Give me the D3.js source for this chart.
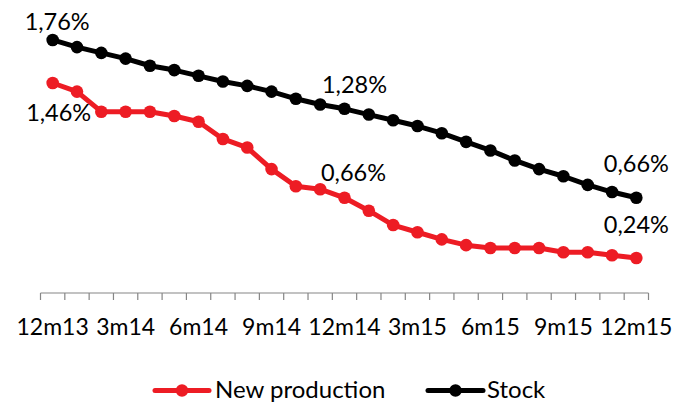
<!DOCTYPE html>
<html>
<head>
<meta charset="utf-8">
<script src="https://cdn.jsdelivr.net/npm/d3@7"></script>
<style>
  html, body { margin: 0; padding: 0; background: #fff; }
  svg { display: block; }
  text { font-family: Lato, "Open Sans", sans-serif; fill: #000; }
</style>
</head>
<body>
<svg id="chart" width="682" height="403"></svg>
<script>
// Monthly categories, Dec 2013 to Dec 2015
const months = ["12m13","1m14","2m14","3m14","4m14","5m14","6m14","7m14","8m14","9m14","10m14","11m14",
  "12m14","1m15","2m15","3m15","4m15","5m15","6m15","7m15","8m15","9m15","10m15","11m15","12m15"];
const tickLabels = ["12m13","3m14","6m14","9m14","12m14","3m15","6m15","9m15","12m15"];

// Rates in percent
const newProduction = [1.46,1.40,1.26,1.26,1.26,1.23,1.19,1.07,1.01,0.86,0.74,0.72,
  0.66,0.57,0.47,0.42,0.37,0.33,0.31,0.31,0.31,0.28,0.28,0.26,0.24];
const stock = [1.76,1.71,1.67,1.63,1.58,1.55,1.51,1.47,1.44,1.40,1.35,1.31,
  1.28,1.24,1.20,1.16,1.11,1.05,0.99,0.92,0.86,0.81,0.75,0.70,0.66];

// Labelled points: series, month index, text offsets
const pointLabels = [
  { series: "stock", i: 0,  dx: 4.5, dy: -10 },
  { series: "new",   i: 0,  dx: 6,   dy: 38.4 },
  { series: "stock", i: 12, dx: 10,  dy: -16 },
  { series: "new",   i: 12, dx: 9,   dy: -16.6 },
  { series: "stock", i: 24, dx: 0,   dy: -25.7 },
  { series: "new",   i: 24, dx: 0,   dy: -24.7 }
];

const RED = "#ED1C24", BLACK = "#000000";
const svg = d3.select("#chart");

const x = d3.scaleBand().domain(months).range([40.5, 648.5]);
const y = d3.scaleLinear().domain([0, 2]).range([292.5, 5.5]);
const cx = d => x(d) + x.bandwidth() / 2;
const fmt = v => v.toFixed(2).replace(".", ",") + "%";

// Category axis: ticks on band boundaries, labels every third month
const axisY = 293;
const g = svg.append("g");
g.append("line")
  .attr("x1", x.range()[0]).attr("x2", x.range()[1])
  .attr("y1", axisY).attr("y2", axisY)
  .attr("stroke", "#868686").attr("stroke-width", 1.2);
const boundaries = months.map(m => x(m)).concat([x.range()[1]]);
g.selectAll("line.tick").data(boundaries).enter().append("line")
  .attr("class", "tick")
  .attr("x1", d => d).attr("x2", d => d)
  .attr("y1", axisY).attr("y2", axisY + 7)
  .attr("stroke", "#868686").attr("stroke-width", 1.2);
g.selectAll("text.tl").data(tickLabels).enter().append("text")
  .attr("class", "tl")
  .attr("x", d => cx(d)).attr("y", 335)
  .attr("text-anchor", "middle")
  .attr("font-size", 23)
  .text(d => d);

// Series
const seriesList = [
  { key: "new", name: "New production", values: newProduction, color: RED },
  { key: "stock", name: "Stock", values: stock, color: BLACK }
];
const line = d3.line().x((d, i) => cx(months[i])).y(d => y(d));

seriesList.forEach(s => {
  const sg = svg.append("g");
  sg.append("path").datum(s.values)
    .attr("d", line)
    .attr("fill", "none")
    .attr("stroke", s.color)
    .attr("stroke-width", 5)
    .attr("stroke-linejoin", "round");
  sg.selectAll("circle").data(s.values).enter().append("circle")
    .attr("cx", (d, i) => cx(months[i]))
    .attr("cy", d => y(d))
    .attr("r", 6.3)
    .attr("fill", s.color);
});

// Value labels
const byKey = { new: newProduction, stock: stock };
svg.selectAll("text.vl").data(pointLabels).enter().append("text")
  .attr("class", "vl")
  .attr("x", d => cx(months[d.i]) + d.dx)
  .attr("y", d => y(byKey[d.series][d.i]) + d.dy)
  .attr("text-anchor", "middle")
  .attr("font-size", 23.5)
  .text(d => fmt(byKey[d.series][d.i]));

// Legend
const legendItems = [
  { name: "New production", color: RED, x0: 155, x1: 209, tx: 215 },
  { name: "Stock", color: BLACK, x0: 428, x1: 483, tx: 487 }
];
const ly = 390.5;
const lg = svg.append("g");
legendItems.forEach(it => {
  lg.append("line")
    .attr("x1", it.x0).attr("x2", it.x1).attr("y1", ly).attr("y2", ly)
    .attr("stroke", it.color).attr("stroke-width", 5).attr("stroke-linecap", "round");
  lg.append("circle")
    .attr("cx", (it.x0 + it.x1) / 2).attr("cy", ly).attr("r", 6.2)
    .attr("fill", it.color);
  lg.append("text")
    .attr("x", it.tx).attr("y", 397.5)
    .attr("font-size", 24)
    .text(it.name);
});
</script>
</body>
</html>
